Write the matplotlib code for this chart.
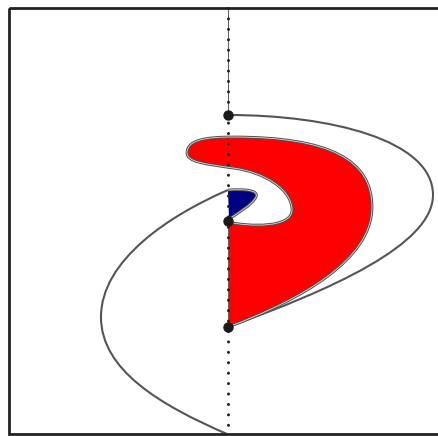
from __future__ import annotations

import matplotlib

matplotlib.use("Agg")
import matplotlib.pyplot as plt
import numpy as np
from matplotlib.patches import PathPatch, Rectangle
from matplotlib.path import Path

W, H = 438, 436  # px, la figura se dibuja en coordenadas de pixel

# Eje vertical punteado y sus tres puntos marcados.
EJE_X = 228.0
EJE_Y = [8.0, 434.0]
PUNTOS_Y = [115.0, 221.0, 327.0]
TRAMOS_CON_LINEA = [(8.0, 115.0), (221.0, 327.0)]

# Curvas de Bezier cubicas: punto inicial y luego ternas (c1, c2, fin).
CURVA_EXTERIOR = [
    (228, 115),
    (330, 115), (433, 140), (433, 195),
    (433, 245), (330, 290), (228, 327),
]
CURVA_ESPIRAL = [
    (227, 434),
    (160, 405), (101, 370), (101, 317),
    (101, 260), (170, 215), (228, 190),
]
REGION_ROJA = [
    (228, 222),
    (250, 227), (292, 228), (292, 210),
    (292, 190), (265, 172), (233, 168),
    (205, 164), (187, 162), (187, 153),
    (187, 140), (205, 137), (233, 137),
    (330, 137), (372, 160), (372, 207),
    (372, 260), (300, 300), (228, 327),
]
REGION_AZUL = [
    (228, 190),
    (245, 189), (259, 190), (256, 197),
    (252, 205), (238, 213), (229, 219),
]


def camino_bezier(puntos: list[tuple[float, float]], cerrar: bool = False) -> Path:
    verts = [puntos[0]]
    codes = [Path.MOVETO]
    for p in puntos[1:]:
        verts.append(p)
        codes.append(Path.CURVE4)
    if cerrar:
        # Se cierra por el eje vertical con un tramo recto.
        verts.append(puntos[0])
        codes.append(Path.LINETO)
    return Path(np.array(verts, dtype=float), codes)


def borde_doble(ax, camino: Path, z: float) -> None:
    # Contorno gris oscuro con un filo claro por dentro, como en la figura original.
    ax.add_patch(PathPatch(camino, fill=False, ec="#505050", lw=2.0, zorder=z))
    ax.add_patch(PathPatch(camino, fill=False, ec="#d8d8d8", lw=0.6, zorder=z + 0.1))


def main() -> None:
    fig = plt.figure(figsize=(W / 100, H / 100), dpi=100)
    ax = fig.add_axes([0, 0, 1, 1])
    ax.set_xlim(0, W)
    ax.set_ylim(H, 0)
    ax.axis("off")

    ax.add_patch(Rectangle((8.5, 8.5), W, 425.5, fill=False, ec="#222222", lw=2.0, zorder=10))

    roja = camino_bezier(REGION_ROJA, cerrar=True)
    ax.add_patch(PathPatch(roja, fc="#ff0000", ec="none", zorder=2))
    borde_doble(ax, camino_bezier(REGION_ROJA), 3)

    azul = camino_bezier(REGION_AZUL, cerrar=True)
    ax.add_patch(PathPatch(azul, fc="#000080", ec="none", zorder=2))
    borde_doble(ax, camino_bezier(REGION_AZUL), 3)

    for curva in (CURVA_EXTERIOR, CURVA_ESPIRAL):
        ax.add_patch(PathPatch(camino_bezier(curva), fill=False, ec="#555555", lw=1.5, zorder=3))

    for y0, y1 in TRAMOS_CON_LINEA:
        ax.plot([EJE_X, EJE_X], [y0, y1], color="#666666", lw=0.8, zorder=4)
    ax.plot(
        [EJE_X, EJE_X],
        EJE_Y,
        color="#222222",
        lw=2.2,
        ls=(0, (0.01, 3.4)),
        dash_capstyle="round",
        zorder=5,
    )
    ax.plot(
        [EJE_X] * len(PUNTOS_Y),
        PUNTOS_Y,
        "o",
        color="#1a1a1a",
        ms=6.5,
        zorder=6,
    )

    fig.savefig("out.png", dpi=100)
    plt.close(fig)


if __name__ == "__main__":
    main()
